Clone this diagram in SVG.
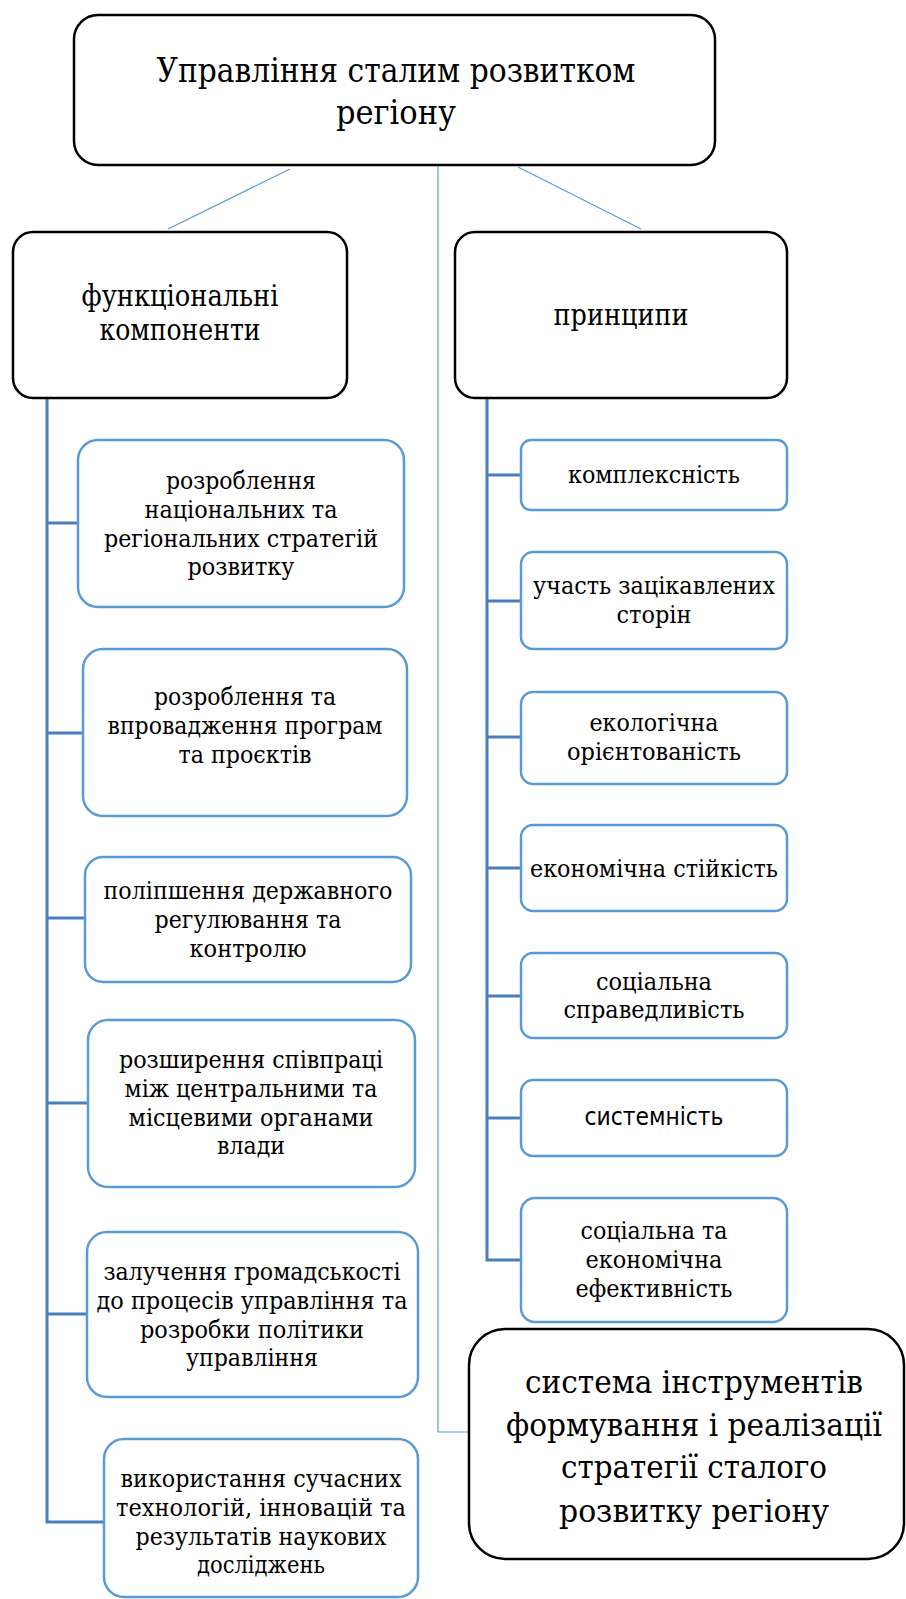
<svg xmlns="http://www.w3.org/2000/svg" width="906" height="1599" viewBox="0 0 906 1599">
<style>
.main{fill:#fff;stroke:#000;stroke-width:2.5}
.sub{fill:#fff;stroke:#5B9BD5;stroke-width:2.5}
.t{font-family:"DejaVu Serif","Liberation Serif",serif;fill:#000;text-anchor:middle}
.s{font-family:"DejaVu Sans","Liberation Sans",sans-serif;fill:#000;text-anchor:middle}
.thin{stroke:#5B9BD5;stroke-width:1.2;fill:none}
.trunk{stroke:#4A7EBB;stroke-width:3;fill:none}
</style>
<rect width="906" height="1599" fill="#fff"/>
<g id="connectors">
<line class="thin" x1="290" y1="169" x2="168" y2="229"/>
<line class="thin" x1="518" y1="167" x2="641" y2="229"/>
<polyline class="thin" points="438,163 438,1432 469,1432"/>
<polyline class="trunk" points="47,398 47,1522 104,1522"/>
<line class="trunk" x1="47" y1="523" x2="78" y2="523"/>
<line class="trunk" x1="47" y1="733" x2="83" y2="733"/>
<line class="trunk" x1="47" y1="918" x2="85" y2="918"/>
<line class="trunk" x1="47" y1="1103" x2="88" y2="1103"/>
<line class="trunk" x1="47" y1="1314" x2="87" y2="1314"/>
<polyline class="trunk" points="487,398 487,1260 521,1260"/>
<line class="trunk" x1="487" y1="475" x2="521" y2="475"/>
<line class="trunk" x1="487" y1="601" x2="521" y2="601"/>
<line class="trunk" x1="487" y1="737" x2="521" y2="737"/>
<line class="trunk" x1="487" y1="868" x2="521" y2="868"/>
<line class="trunk" x1="487" y1="996" x2="521" y2="996"/>
<line class="trunk" x1="487" y1="1118" x2="521" y2="1118"/>
</g>
<g id="root">
<rect class="main" x="74" y="15" width="641" height="150" rx="24"/>
<text class="t" font-size="33" x="396" y="82" textLength="479" lengthAdjust="spacingAndGlyphs">Управління сталим розвитком</text>
<text class="t" font-size="33" x="396" y="124" textLength="120" lengthAdjust="spacingAndGlyphs">регіону</text>
</g>
<g id="functional">
<rect class="main" x="13" y="232" width="334" height="166" rx="20"/>
<text class="t" font-size="29" x="180" y="306" textLength="197" lengthAdjust="spacingAndGlyphs">функціональні</text>
<text class="t" font-size="29" x="180" y="340" textLength="161" lengthAdjust="spacingAndGlyphs">компоненти</text>
</g>
<g id="principles">
<rect class="main" x="455" y="232" width="332" height="166" rx="20"/>
<text class="t" font-size="29" x="621" y="325" textLength="135" lengthAdjust="spacingAndGlyphs">принципи</text>
</g>
<g id="f1">
<rect class="sub" x="78" y="440" width="326" height="167" rx="20"/>
<text class="t" font-size="25" x="241" y="489" textLength="150" lengthAdjust="spacingAndGlyphs">розроблення</text>
<text class="t" font-size="25" x="241" y="518" textLength="193" lengthAdjust="spacingAndGlyphs">національних та</text>
<text class="t" font-size="25" x="241" y="547" textLength="274" lengthAdjust="spacingAndGlyphs">регіональних стратегій</text>
<text class="t" font-size="25" x="241" y="575" textLength="107" lengthAdjust="spacingAndGlyphs">розвитку</text>
</g>
<g id="f2">
<rect class="sub" x="83" y="649" width="324" height="167" rx="20"/>
<text class="t" font-size="25" x="245" y="705" textLength="182" lengthAdjust="spacingAndGlyphs">розроблення та</text>
<text class="t" font-size="25" x="245" y="734" textLength="275" lengthAdjust="spacingAndGlyphs">впровадження програм</text>
<text class="t" font-size="25" x="245" y="763" textLength="133" lengthAdjust="spacingAndGlyphs">та проєктів</text>
</g>
<g id="f3">
<rect class="sub" x="85" y="857" width="326" height="125" rx="18"/>
<text class="t" font-size="25" x="248" y="899" textLength="289" lengthAdjust="spacingAndGlyphs">поліпшення державного</text>
<text class="t" font-size="25" x="248" y="928" textLength="187" lengthAdjust="spacingAndGlyphs">регулювання та</text>
<text class="t" font-size="25" x="248" y="957" textLength="117" lengthAdjust="spacingAndGlyphs">контролю</text>
</g>
<g id="f4">
<rect class="sub" x="88" y="1020" width="327" height="167" rx="20"/>
<text class="t" font-size="25" x="251" y="1068" textLength="264" lengthAdjust="spacingAndGlyphs">розширення співпраці</text>
<text class="t" font-size="25" x="251" y="1097" textLength="253" lengthAdjust="spacingAndGlyphs">між центральними та</text>
<text class="t" font-size="25" x="251" y="1126" textLength="245" lengthAdjust="spacingAndGlyphs">місцевими органами</text>
<text class="t" font-size="25" x="251" y="1154" textLength="68" lengthAdjust="spacingAndGlyphs">влади</text>
</g>
<g id="f5">
<rect class="sub" x="87" y="1232" width="331" height="165" rx="20"/>
<text class="t" font-size="25" x="252" y="1280" textLength="297" lengthAdjust="spacingAndGlyphs">залучення громадськості</text>
<text class="t" font-size="25" x="252" y="1309" textLength="311" lengthAdjust="spacingAndGlyphs">до процесів управління та</text>
<text class="t" font-size="25" x="252" y="1338" textLength="224" lengthAdjust="spacingAndGlyphs">розробки політики</text>
<text class="t" font-size="25" x="252" y="1366" textLength="132" lengthAdjust="spacingAndGlyphs">управління</text>
</g>
<g id="f6">
<rect class="sub" x="104" y="1439" width="314" height="158" rx="20"/>
<text class="t" font-size="25" x="261" y="1487" textLength="281" lengthAdjust="spacingAndGlyphs">використання сучасних</text>
<text class="t" font-size="25" x="261" y="1516" textLength="290" lengthAdjust="spacingAndGlyphs">технологій, інновацій та</text>
<text class="t" font-size="25" x="261" y="1545" textLength="251" lengthAdjust="spacingAndGlyphs">результатів наукових</text>
<text class="t" font-size="25" x="261" y="1573" textLength="128" lengthAdjust="spacingAndGlyphs">досліджень</text>
</g>
<g id="p1">
<rect class="sub" x="521" y="440" width="266" height="70" rx="10"/>
<text class="t" font-size="25" x="654" y="483" textLength="172" lengthAdjust="spacingAndGlyphs">комплексність</text>
</g>
<g id="p2">
<rect class="sub" x="521" y="552" width="266" height="97" rx="12"/>
<text class="t" font-size="25" x="654" y="594" textLength="242" lengthAdjust="spacingAndGlyphs">участь зацікавлених</text>
<text class="t" font-size="25" x="654" y="623" textLength="75" lengthAdjust="spacingAndGlyphs">сторін</text>
</g>
<g id="p3">
<rect class="sub" x="521" y="692" width="266" height="92" rx="12"/>
<text class="t" font-size="25" x="654" y="731" textLength="129" lengthAdjust="spacingAndGlyphs">екологічна</text>
<text class="t" font-size="25" x="654" y="760" textLength="174" lengthAdjust="spacingAndGlyphs">орієнтованість</text>
</g>
<g id="p4">
<rect class="sub" x="521" y="825" width="266" height="86" rx="12"/>
<text class="t" font-size="25" x="654" y="877" textLength="248" lengthAdjust="spacingAndGlyphs">економічна стійкість</text>
</g>
<g id="p5">
<rect class="sub" x="521" y="953" width="266" height="85" rx="12"/>
<text class="t" font-size="25" x="654" y="990" textLength="116" lengthAdjust="spacingAndGlyphs">соціальна</text>
<text class="t" font-size="25" x="654" y="1018" textLength="181" lengthAdjust="spacingAndGlyphs">справедливість</text>
</g>
<g id="p6">
<rect class="sub" x="521" y="1080" width="266" height="76" rx="12"/>
<text class="s" font-size="24" x="654" y="1125" textLength="139" lengthAdjust="spacingAndGlyphs">системність</text>
</g>
<g id="p7">
<rect class="sub" x="521" y="1198" width="266" height="124" rx="14"/>
<text class="t" font-size="25" x="654" y="1239" textLength="147" lengthAdjust="spacingAndGlyphs">соціальна та</text>
<text class="t" font-size="25" x="654" y="1268" textLength="137" lengthAdjust="spacingAndGlyphs">економічна</text>
<text class="t" font-size="25" x="654" y="1297" textLength="157" lengthAdjust="spacingAndGlyphs">ефективність</text>
</g>
<g id="tools">
<rect class="main" x="469" y="1329" width="435" height="230" rx="36" stroke-width="3"/>
<text class="t" font-size="31" x="694" y="1393" textLength="338" lengthAdjust="spacingAndGlyphs">система інструментів</text>
<text class="t" font-size="31" x="694" y="1436" textLength="376" lengthAdjust="spacingAndGlyphs">формування і реалізації</text>
<text class="t" font-size="31" x="694" y="1478" textLength="266" lengthAdjust="spacingAndGlyphs">стратегії сталого</text>
<text class="t" font-size="31" x="694" y="1522" textLength="270" lengthAdjust="spacingAndGlyphs">розвитку регіону</text>
</g>
</svg>
